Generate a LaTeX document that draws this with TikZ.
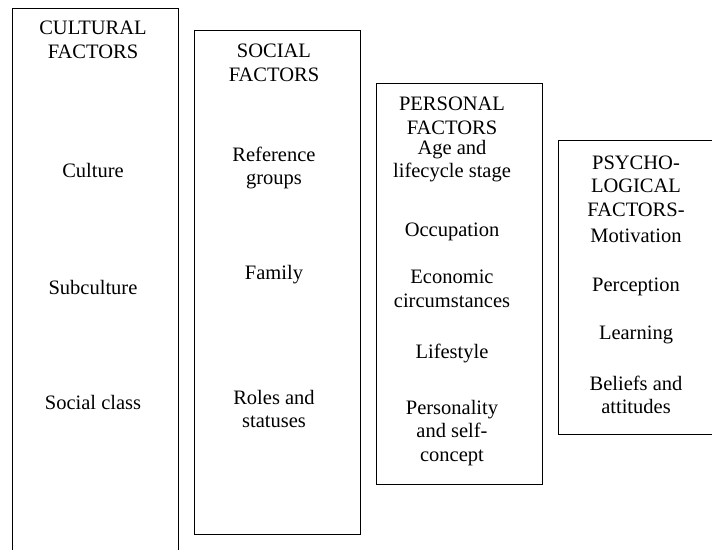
\documentclass[tikz,border=0pt]{standalone}
\usepackage{fontspec}
\setmainfont{Liberation Serif}
\usepackage{tikz}
\usetikzlibrary{positioning}
\tikzset{
  colbox/.style={draw,line width=1.4pt,anchor=north west,inner sep=0pt,minimum width=166pt},
  lbl/.style={align=center,inner sep=0pt,font=\fontsize{20.5}{23.5}\selectfont},
}

\begin{document}
\begin{tikzpicture}[x=1pt,y=-1pt]
    \useasboundingbox (0,0) rectangle (712,549);
    \clip (0,0) rectangle (712,549);

    % the four columns
    \node [colbox, minimum height=570pt] (cultural) at (12,8) {};
    \node [colbox, minimum height=504pt] (social) at (194,30) {};
    \node [colbox, minimum height=401pt] (personal) at (376,83) {};
    \node [colbox, minimum height=294pt, minimum width=175pt] (psycho) at (558,140) {};

    % cultural
    \node [lbl] (culthead) at (93,40) {CULTURAL\\FACTORS};
    \node [lbl] (culture) at (93,170) {Culture};
    \node [lbl] (subculture) at (93,287) {Subculture};
    \node [lbl] (socclass) at (93,402) {Social class};

    % social
    \node [lbl] (sochead) at (274,63) {SOCIAL\\FACTORS};
    \node [lbl] (refgroups) at (274,168) {Reference\\groups};
    \node [lbl] (family) at (274,275) {Family};
    \node [lbl] (roles) at (274,409) {Roles and\\statuses};

    % personal
    \node [lbl] (pershead) at (452,116) {PERSONAL\\FACTORS};
    \node [lbl] (age) at (452,161) {Age and\\lifecycle stage};
    \node [lbl] (occupation) at (452,232) {Occupation};
    \node [lbl] (economic) at (452,289) {Economic\\circumstances};
    \node [lbl] (lifestyle) at (452,353) {Lifestyle};
    \node [lbl] (personality) at (452,433) {Personality\\and self-\\concept};

    % psychological
    \node [lbl] (psyhead) at (636,186) {PSYCHO-\\LOGICAL\\FACTORS-};
    \node [lbl] (motivation) at (636,236) {Motivation};
    \node [lbl] (perception) at (636,287) {Perception};
    \node [lbl] (learning) at (636,335) {Learning};
    \node [lbl] (beliefs) at (636,395) {Beliefs and\\attitudes};
\end{tikzpicture}
\end{document}
